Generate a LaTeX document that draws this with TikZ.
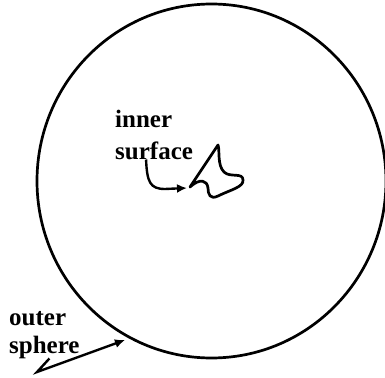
\documentclass[tikz,border=0pt]{standalone}
\usepackage{fontspec}
\setmainfont{Liberation Serif}
\usetikzlibrary{arrows.meta}

\begin{document}
\begin{tikzpicture}[x=1pt,y=-1pt]
		\tikzset{lbl/.style={inner sep=0pt,anchor=base west,font=\bfseries\fontsize{25}{29}\selectfont}};
		\tikzset{pointer/.style={line width=2.4pt,-{Latex[length=10pt,width=9pt]}}};
		\useasboundingbox (0,0) rectangle (385,377);
		% outer sphere
		\draw[line width=2.7pt] (211.5,181) ellipse (174.5 and 177);
		% inner surface
		\draw[line width=2.7pt,line join=round] (190,187) -- (218,145) .. controls (220,150) and (217,165) .. (224,172)
			.. controls (230,178) and (243,172) .. (243,180) .. controls (244,187) and (230,190) .. (218,196)
			.. controls (210,200) and (208,194) .. (208,188) .. controls (207,180) and (200,178) .. (190,187) -- cycle;
		\node[lbl] (inner) at (115,128) {inner};
		\node[lbl,yshift=-31pt] (surface) at (inner.base west) {surface};
		\node[lbl] (outer) at (9,325) {outer};
		\node[lbl,yshift=-28pt] (sphere) at (outer.base west) {sphere};
		\coordinate (innertip) at (187,188);
		\coordinate (outertip) at (125,340);
		\draw[pointer] ([xshift=-8pt]surface.south) .. controls (147,182) and (150,189) .. (165,189) -- (innertip);
		\draw[pointer] ([xshift=5pt]sphere.south) -- (37,372) -- (outertip);
	\end{tikzpicture}
\end{document}
